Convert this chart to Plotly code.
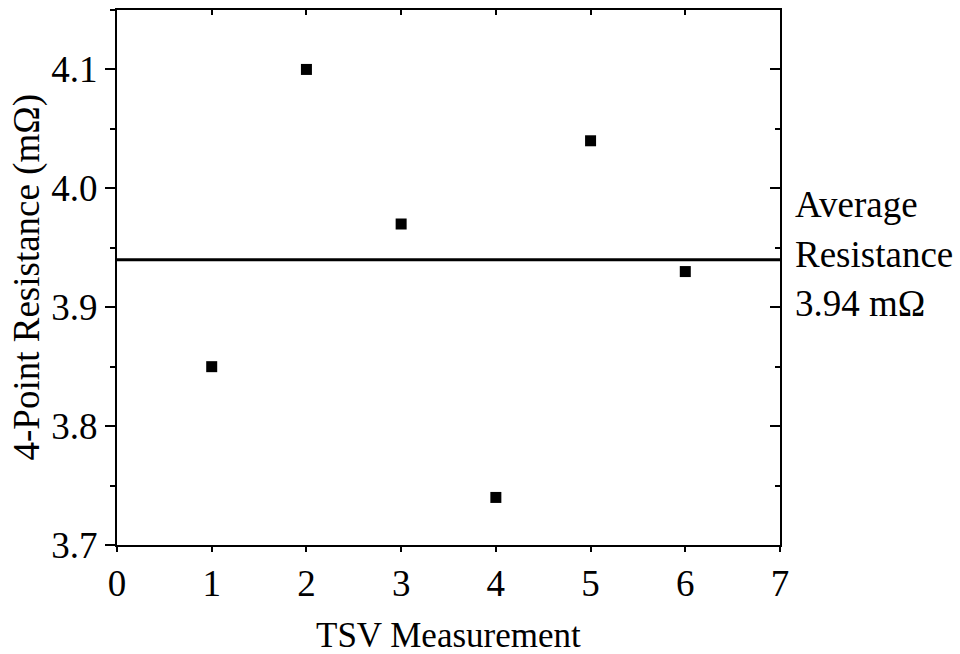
import plotly.graph_objects as go

# TSV four-point resistance measurements
measurement = [1, 2, 3, 4, 5, 6]
resistance = [3.85, 4.10, 3.97, 3.74, 4.04, 3.93]
average = round(sum(resistance) / len(resistance), 2)

label_lines = ["Average", "Resistance", f"{average:.2f} mΩ"]
x_title = "TSV Measurement"
y_title = "4-Point Resistance (mΩ)"

FONT = "Times New Roman, Liberation Serif, serif"
X_RANGE = [0, 7]
Y_RANGE = [3.7, 4.15]

fig = go.Figure()

fig.add_trace(go.Scatter(
    x=measurement, y=resistance, mode="markers",
    marker=dict(symbol="square", size=11, color="black"),
    showlegend=False, hoverinfo="x+y",
))

# average resistance line across the full x range
fig.add_trace(go.Scatter(
    x=X_RANGE, y=[average, average], mode="lines",
    line=dict(color="black", width=3),
    showlegend=False, hoverinfo="skip",
))

# invisible trace anchoring the mirrored top/right axes
fig.add_trace(go.Scatter(
    x=X_RANGE, y=Y_RANGE, xaxis="x2", yaxis="y2", mode="markers",
    marker=dict(opacity=0), showlegend=False, hoverinfo="skip",
))

tickfont = dict(family=FONT, size=37, color="black")

fig.update_layout(
    width=960, height=654,
    margin=dict(l=117, r=180, t=10, b=109, autoexpand=False),
    paper_bgcolor="white", plot_bgcolor="white",
    font=dict(family=FONT, color="black"),
    xaxis=dict(
        range=X_RANGE, dtick=1, tick0=0, showgrid=False, zeroline=False,
        showline=True, linecolor="black", linewidth=2,
        ticks="outside", ticklen=5, tickwidth=2, tickcolor="black",
        tickfont=tickfont, automargin=False,
    ),
    yaxis=dict(
        range=Y_RANGE, dtick=0.1, tick0=3.7, tickformat=".1f",
        showgrid=False, zeroline=False,
        showline=True, linecolor="black", linewidth=2,
        ticks="outside", ticklen=10, tickwidth=2, tickcolor="black",
        minor=dict(dtick=0.05, ticks="outside", ticklen=5, tickwidth=2, tickcolor="black"),
        tickfont=tickfont, automargin=False,
    ),
    xaxis2=dict(
        range=X_RANGE, dtick=1, tick0=0, overlaying="x", side="top",
        showgrid=False, zeroline=False, showticklabels=False,
        showline=True, linecolor="black", linewidth=2,
        ticks="inside", ticklen=5, tickwidth=2, tickcolor="black",
    ),
    yaxis2=dict(
        range=Y_RANGE, dtick=0.1, tick0=3.7, overlaying="y", side="right",
        showgrid=False, zeroline=False, showticklabels=False,
        showline=True, linecolor="black", linewidth=2,
        ticks="inside", ticklen=10, tickwidth=2, tickcolor="black",
        minor=dict(dtick=0.05, ticks="inside", ticklen=5, tickwidth=2, tickcolor="black"),
    ),
)

# axis titles
fig.add_annotation(
    xref="paper", yref="paper", x=0.5, y=0, yshift=-90,
    xanchor="center", yanchor="middle", showarrow=False,
    text=x_title, font=dict(family=FONT, size=35, color="black"),
)
fig.add_annotation(
    xref="paper", yref="paper", x=0, y=0.5, xshift=-91,
    xanchor="center", yanchor="middle", showarrow=False, textangle=-90,
    text=y_title, font=dict(family=FONT, size=37, color="black"),
)

# label beside the average line, one annotation per line of text
for i, line in enumerate(label_lines):
    fig.add_annotation(
        xref="paper", yref="y", x=1.0, y=average, xshift=13, yshift=55 - 49.5 * i,
        xanchor="left", yanchor="middle", align="left", showarrow=False,
        text=line, font=dict(family=FONT, size=37, color="black"),
    )

fig.write_html("out.html")
